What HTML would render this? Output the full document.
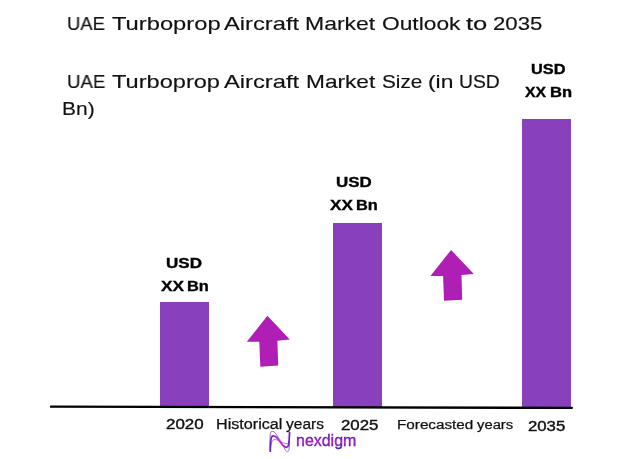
<!DOCTYPE html>
<html><head><meta charset="utf-8"><style>
html,body{margin:0;padding:0;background:#fff;}
body{width:622px;height:459px;position:relative;overflow:hidden;font-family:"Liberation Sans",sans-serif;}
.t{position:absolute;white-space:pre;transform-origin:0 0;will-change:transform;}
.bar{position:absolute;background:#8940BC;}
</style></head><body>
<div class="bar" style="left:160.1px;top:301.8px;width:48.8px;height:105px"></div>
<div class="bar" style="left:333.1px;top:222.9px;width:48.8px;height:184px"></div>
<div class="bar" style="left:521.9px;top:119px;width:49px;height:288px"></div>
<svg style="position:absolute;left:0;top:0" width="622" height="459" viewBox="0 0 622 459">
<line x1="51.1" y1="406.65" x2="571.8" y2="407.85" stroke="#000" stroke-width="2.4" stroke-linecap="round"/>
<polygon fill="#B01FB5" points="267.4,315.8 289.8,339.6 277.4,340.8 278.2,365.4 260.3,366.7 259.3,341.7 246.8,341.8"/>
<polygon fill="#B01FB5" points="451.1,249.9 473.8,274.1 461.5,275.0 462.2,299.8 444.0,300.7 443.1,276.0 430.4,276.0"/>
</svg>
<div class="t" style="left:67.48px;top:13.56px;font-size:19.0px;line-height:19.0px;font-weight:400;color:#111;transform:scaleX(0.968);-webkit-text-stroke:0.15px #111;">UAE</div>
<div class="t" style="left:112.22px;top:13.56px;font-size:19.0px;line-height:19.0px;font-weight:400;color:#111;transform:scaleX(1.2489);-webkit-text-stroke:0.15px #111;">Turboprop</div>
<div class="t" style="left:224.29px;top:13.56px;font-size:19.0px;line-height:19.0px;font-weight:400;color:#111;transform:scaleX(1.2472);-webkit-text-stroke:0.15px #111;">Aircraft</div>
<div class="t" style="left:305.17px;top:13.56px;font-size:19.0px;line-height:19.0px;font-weight:400;color:#111;transform:scaleX(1.2085);-webkit-text-stroke:0.15px #111;">Market</div>
<div class="t" style="left:381.54px;top:13.56px;font-size:19.0px;line-height:19.0px;font-weight:400;color:#111;transform:scaleX(1.1977);-webkit-text-stroke:0.15px #111;">Outlook</div>
<div class="t" style="left:465.94px;top:13.56px;font-size:19.0px;line-height:19.0px;font-weight:400;color:#111;transform:scaleX(1.3463);-webkit-text-stroke:0.15px #111;">to</div>
<div class="t" style="left:492.57px;top:13.56px;font-size:19.0px;line-height:19.0px;font-weight:400;color:#111;transform:scaleX(1.1665);-webkit-text-stroke:0.15px #111;">2035</div>
<div class="t" style="left:67.48px;top:71.61px;font-size:19.0px;line-height:19.0px;font-weight:400;color:#111;transform:scaleX(0.9788);-webkit-text-stroke:0.15px #111;">UAE</div>
<div class="t" style="left:112.23px;top:71.61px;font-size:19.0px;line-height:19.0px;font-weight:400;color:#111;transform:scaleX(1.2418);-webkit-text-stroke:0.15px #111;">Turboprop</div>
<div class="t" style="left:224.28px;top:71.61px;font-size:19.0px;line-height:19.0px;font-weight:400;color:#111;transform:scaleX(1.2489);-webkit-text-stroke:0.15px #111;">Aircraft</div>
<div class="t" style="left:305.85px;top:71.61px;font-size:19.0px;line-height:19.0px;font-weight:400;color:#111;transform:scaleX(1.1929);-webkit-text-stroke:0.15px #111;">Market</div>
<div class="t" style="left:381.81px;top:71.61px;font-size:19.0px;line-height:19.0px;font-weight:400;color:#111;transform:scaleX(1.0903);-webkit-text-stroke:0.15px #111;">Size</div>
<div class="t" style="left:427.55px;top:71.61px;font-size:19.0px;line-height:19.0px;font-weight:400;color:#111;transform:scaleX(1.2031);-webkit-text-stroke:0.15px #111;">(in</div>
<div class="t" style="left:458.77px;top:71.61px;font-size:19.0px;line-height:19.0px;font-weight:400;color:#111;transform:scaleX(1.0176);-webkit-text-stroke:0.15px #111;">USD</div>
<div class="t" style="left:62.32px;top:98.61px;font-size:19.0px;line-height:19.0px;font-weight:400;color:#111;transform:scaleX(1.1046);-webkit-text-stroke:0.15px #111;">Bn)</div>
<div class="t" style="left:166.08px;top:255.73px;font-size:14.783px;line-height:14.783px;font-weight:700;color:#000;transform:scaleX(1.1549);-webkit-text-stroke:0.35px #000;">USD</div>
<div class="t" style="left:160.73px;top:278.63px;font-size:14.203px;line-height:14.203px;font-weight:700;color:#000;transform:scaleX(1.2171);-webkit-text-stroke:0.35px #000;">XX</div>
<div class="t" style="left:186.89px;top:278.63px;font-size:14.203px;line-height:14.203px;font-weight:700;color:#000;transform:scaleX(1.1534);-webkit-text-stroke:0.35px #000;">Bn</div>
<div class="t" style="left:335.54px;top:174.65px;font-size:14.058px;line-height:14.058px;font-weight:700;color:#000;transform:scaleX(1.2047);-webkit-text-stroke:0.35px #000;">USD</div>
<div class="t" style="left:329.73px;top:197.6px;font-size:14.348px;line-height:14.348px;font-weight:700;color:#000;transform:scaleX(1.2002);-webkit-text-stroke:0.35px #000;">XX</div>
<div class="t" style="left:355.92px;top:197.6px;font-size:14.348px;line-height:14.348px;font-weight:700;color:#000;transform:scaleX(1.1417);-webkit-text-stroke:0.35px #000;">Bn</div>
<div class="t" style="left:530.97px;top:62.62px;font-size:13.913px;line-height:13.913px;font-weight:700;color:#000;transform:scaleX(1.1741);-webkit-text-stroke:0.35px #000;">USD</div>
<div class="t" style="left:524.73px;top:85.6px;font-size:13.768px;line-height:13.768px;font-weight:700;color:#000;transform:scaleX(1.1463);-webkit-text-stroke:0.35px #000;">XX</div>
<div class="t" style="left:549.74px;top:85.6px;font-size:13.768px;line-height:13.768px;font-weight:700;color:#000;transform:scaleX(1.2018);-webkit-text-stroke:0.35px #000;">Bn</div>
<div class="t" style="left:165.92px;top:416.55px;font-size:14.348px;line-height:14.348px;font-weight:400;color:#111;transform:scaleX(1.1839);-webkit-text-stroke:0.4px #111;">2020</div>
<div class="t" style="left:215.5px;top:417.62px;font-size:13.913px;line-height:13.913px;font-weight:400;color:#111;transform:scaleX(1.1615);-webkit-text-stroke:0.25px #111;">Historical</div>
<div class="t" style="left:285.93px;top:417.62px;font-size:13.913px;line-height:13.913px;font-weight:400;color:#111;transform:scaleX(1.1173);-webkit-text-stroke:0.25px #111;">years</div>
<div class="t" style="left:340.98px;top:417.55px;font-size:14.348px;line-height:14.348px;font-weight:400;color:#111;transform:scaleX(1.1743);-webkit-text-stroke:0.4px #111;">2025</div>
<div class="t" style="left:396.92px;top:418.74px;font-size:12.899px;line-height:12.899px;font-weight:400;color:#111;transform:scaleX(1.185);-webkit-text-stroke:0.25px #111;">Forecasted</div>
<div class="t" style="left:477.09px;top:418.74px;font-size:12.899px;line-height:12.899px;font-weight:400;color:#111;transform:scaleX(1.1499);-webkit-text-stroke:0.25px #111;">years</div>
<div class="t" style="left:528.37px;top:419.57px;font-size:13.913px;line-height:13.913px;font-weight:400;color:#111;transform:scaleX(1.2035);-webkit-text-stroke:0.4px #111;">2035</div>
<svg style="position:absolute;left:0;top:0" width="622" height="459" viewBox="0 0 622 459">
<defs><linearGradient id="lg" x1="270" y1="0" x2="290" y2="0" gradientUnits="userSpaceOnUse">
<stop offset="0" stop-color="#5a1ec8"/><stop offset="0.5" stop-color="#c030c0"/><stop offset="1" stop-color="#6a1cc8"/></linearGradient></defs>
<g fill="none" stroke="url(#lg)" stroke-linecap="round">
<path d="M270.3,451.2 C270.3,446 270.6,440 271.4,437.6 C272,436 272.6,435.7 273.4,435.8 C275,435.9 276.4,437 277.3,438.1 C278.4,439.4 279.2,440.8 280.2,442 C281.4,443.5 282.2,444.6 283,445.4 C284.2,446.6 285.4,447.5 286.4,447.4 C287.6,447.3 288.2,446.5 288.5,445 C289.2,441 289.4,436 289.5,432.4" stroke-width="1.7"/>
<path d="M270.3,450.5 C270,444 269.9,438 270.2,434.7 C270.5,432.2 271.2,431.3 272,431.3 C273.4,431.3 274.6,432.2 275.6,433.5 C277.4,436 278.8,438 280.2,440.3 C281.6,442.8 282.8,445.5 284.1,447.7 C285.2,449.8 286.2,451.7 287.3,451.7 C288.2,451.7 288.8,451 289,450 C289.6,444 289.6,437 289.6,432.6" stroke-width="0.8" opacity="0.85"/>
<path d="M270.8,447 C270.9,443 272.4,439.5 274.5,439.5 C276,439.5 277.2,440 278.5,440.3 C280,440.9 281.6,442 283,442.6 C284.3,443.2 285.4,443.7 286.4,443.7 C287.4,443.7 288,443.5 288.4,443.2" stroke-width="0.8" opacity="0.8"/>
</g></svg>
<svg style="position:absolute;left:0;top:0;will-change:transform" width="622" height="459" viewBox="0 0 622 459">
<defs><linearGradient id="tg" x1="0" y1="-13.3" x2="0" y2="3.2" gradientUnits="userSpaceOnUse">
<stop offset="0" stop-color="#6a20c8"/><stop offset="0.3" stop-color="#6818c4"/><stop offset="0.48" stop-color="#9a1cc2"/><stop offset="0.56" stop-color="#b41ec0"/><stop offset="0.64" stop-color="#901ac2"/><stop offset="0.8" stop-color="#5c16c4"/><stop offset="1" stop-color="#4a30d0"/></linearGradient></defs>
<text transform="translate(296.0,446.3) scale(0.94,1)" x="0" y="0" font-family="Liberation Sans" font-size="17" fill="url(#tg)" stroke="url(#tg)" stroke-width="0.4">nexdigm</text>
</svg>

</body></html>
